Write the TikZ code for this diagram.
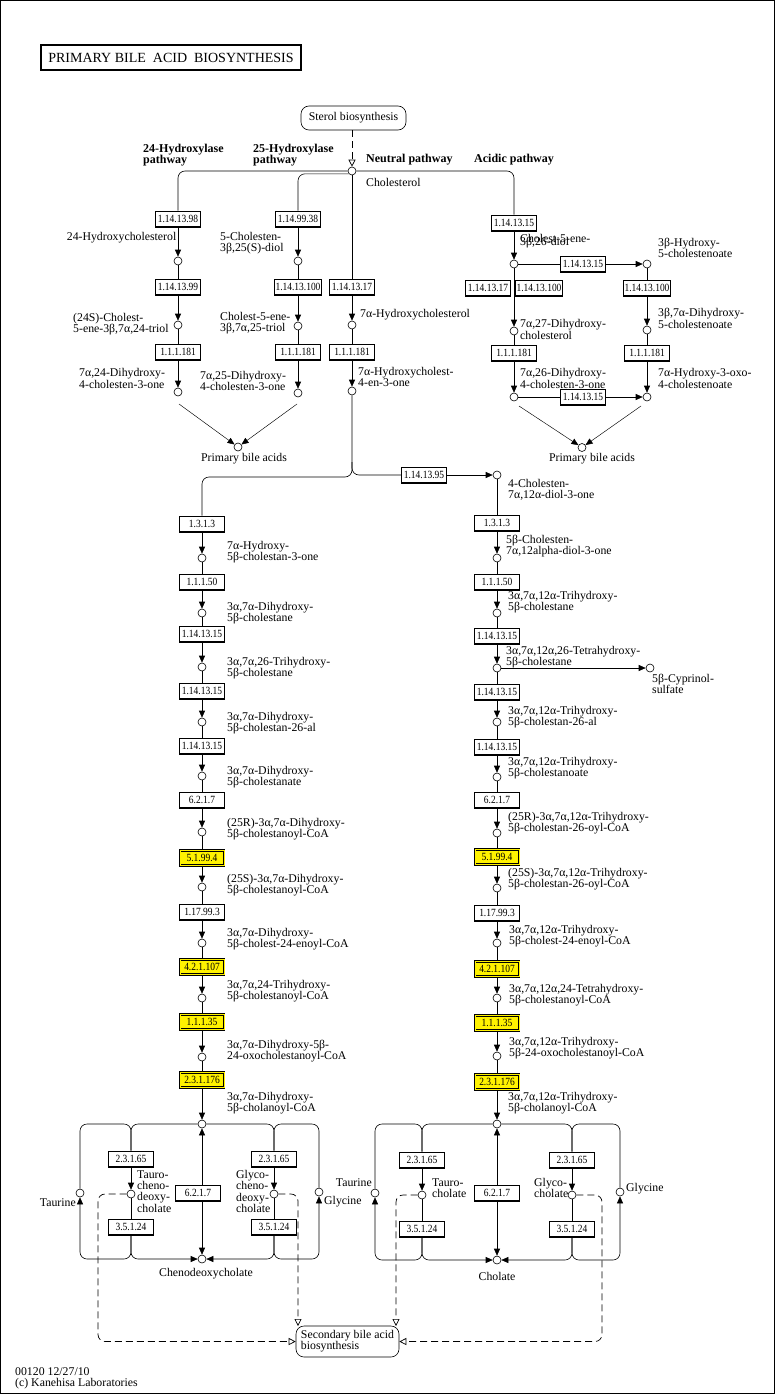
\documentclass[tikz,border=0pt]{standalone}
\usepackage{fontspec}
\setmainfont{Liberation Serif}
\newfontfamily\enzfont[FakeStretch=0.86]{Liberation Serif}
\usetikzlibrary{arrows.meta,calc}
\begin{document}
\begin{tikzpicture}[x=1pt,y=-1pt,
  lbl/.style={inner sep=0pt, align=left, font=\fontsize{11.8}{11.3}\selectfont},
  hd/.style={inner sep=0pt, align=left, anchor=west, font=\fontsize{12}{11.5}\selectfont\bfseries},
  enz/.style={draw, fill=white, line width=0.6pt, minimum width=45pt, minimum height=16pt, inner sep=1pt,
    font=\enzfont\fontsize{11}{11}\selectfont,
    path picture={\draw[line width=2.2pt] (path picture bounding box.south west) -- (path picture bounding box.south east);}},
  enzy/.style={draw, fill=yellow, line width=0.7pt, double=yellow, double distance=0.9pt, minimum width=44pt, minimum height=15pt, inner sep=1pt,
    font=\enzfont\fontsize{11}{11}\selectfont},
  cpd/.style={circle, draw, fill=white, minimum size=8pt, inner sep=0pt, line width=0.6pt},
  rx/.style={line width=0.6pt},
  thin/.style={line width=0.45pt, -{Triangle[length=7pt,width=6pt]}},
  ar/.style={line width=0.6pt, -{Triangle[length=7pt,width=6pt]}},
  dsh/.style={line width=0.7pt, dash pattern=on 7pt off 4pt, -{Triangle[open,length=7pt,width=7pt]}},
  rc/.style={rounded corners=7pt},
  mapbox/.style={draw, rounded corners=8pt, line width=0.6pt, font=\fontsize{11.8}{11.3}\selectfont},
]
\useasboundingbox (0,0) rectangle (776,1394);
\draw[line width=1pt] (0.5,0.5) rectangle (774.5,1393);

% title
\node[draw, line width=2pt, minimum width=260pt, minimum height=25pt, inner sep=0pt,
  font=\fontsize{14}{14}\selectfont] (title) at (171,57.5) {PRIMARY BILE~ ACID~ BIOSYNTHESIS};

% top maps and headings
\node[mapbox, minimum width=105pt, minimum height=24pt] (sterol) at (353.5,118) {Sterol biosynthesis};
\node[hd] (h24) at (143,155) {24-Hydroxylase\\pathway};
\node[hd] (h25) at (253,155) {25-Hydroxylase\\pathway};
\node[hd] (hneu) at (366,160) {Neutral pathway};
\node[hd] (hacid) at (474,160) {Acidic pathway};

\node[cpd] (chol) at (352,171) {};
\node[lbl, anchor=west] (lchol) at (366,182) {Cholesterol};
\coordinate (cholsw) at (348.6,173.8);
\draw[dsh] (chol |- sterol.south) -- (chol);

% 24-hydroxylase column (x=178)
\node[enz] (b9813) at (178,219) {1.14.13.98};
\node[cpd] (c24oh) at (178,261) {};
\node[enz] (b9913) at (178,287) {1.14.13.99};
\node[cpd] (c24triol) at (178,325) {};
\node[enz] (b181a) at (178,352) {1.1.1.181};
\node[cpd] (c24one) at (178,392) {};
\node[lbl, anchor=east] at (176.5,238) {24-Hydroxycholesterol};
\node[lbl, anchor=west] at (73,324) {(24S)-Cholest-\\5-ene-3β,7α,24-triol};
\node[lbl, anchor=west] at (79,378.5) {7α,24-Dihydroxy-\\4-cholesten-3-one};

% 25-hydroxylase column (x=298)
\node[enz] (b9938) at (298,219) {1.14.99.38};
\node[cpd] (c25diol) at (298,261) {};
\node[enz] (b100a) at (298,287) {1.14.13.100};
\node[cpd] (c25triol) at (298,326) {};
\node[enz] (b181b) at (298,352) {1.1.1.181};
\node[cpd] (c25one) at (298,393) {};
\node[lbl, anchor=west] at (220,243.5) {5-Cholesten-\\3β,25(S)-diol};
\node[lbl, anchor=west] at (220,323) {Cholest-5-ene-\\3β,7α,25-triol};
\node[lbl, anchor=west] at (200,381) {7α,25-Dihydroxy-\\4-cholesten-3-one};

% neutral column (x=352)
\node[enz] (n17) at (352,287) {1.14.13.17};
\node[cpd] (c7aoh) at (352,325) {};
\node[enz] (n181) at (352,352) {1.1.1.181};
\node[cpd] (c7aone) at (352,391) {};
\node[lbl, anchor=west] at (360,315) {7α-Hydroxycholesterol};
\node[lbl, anchor=west] at (358,377) {7α-Hydroxycholest-\\4-en-3-one};

% primary bile acids left
\node[cpd] (pba1) at (238,447) {};
\node[lbl] at (244,458.5) {Primary bile acids};
\coordinate (pb1a) at (179,404);
\coordinate (pb1b) at (297,404);

% acidic pathway
\node[enz] (a15) at (514,223) {1.14.13.15};
\node[cpd] (c26diol) at (514,264) {};
\node[enz] (a15h) at (583,264) {1.14.13.15};
\node[cpd] (c3bhc) at (647,264) {};
\node[enz] (a17) at (488,288) {1.14.13.17};
\node[enz] (a100l) at (539,288) {1.14.13.100};
\node[enz] (a100r) at (647,288) {1.14.13.100};
\node[cpd] (c727) at (514,331) {};
\node[cpd] (c3b7a) at (647,330) {};
\node[enz] (a181l) at (514,353) {1.1.1.181};
\node[enz] (a181r) at (647,353) {1.1.1.181};
\node[cpd] (c726one) at (514,397) {};
\node[enz] (a15b) at (583,397) {1.14.13.15};
\node[cpd] (c7a3oxo) at (647,397) {};
\node[cpd] (pba2) at (582,447.5) {};
\node[lbl] at (592,459) {Primary bile acids};
\coordinate (pb2a) at (519,406);
\coordinate (pb2b) at (641,406);
\node[lbl, anchor=west] at (520,238) {Cholest-5-ene-};
\node[lbl, anchor=west] at (520,242.5) {3β,26-diol};
\node[lbl, anchor=west] at (658,248) {3β-Hydroxy-\\5-cholestenoate};
\node[lbl, anchor=west] at (520,329.5) {7α,27-Dihydroxy-\\cholesterol};
\node[lbl, anchor=west] at (658,318.5) {3β,7α-Dihydroxy-\\5-cholestenoate};
\node[lbl, anchor=west] at (520,378.5) {7α,26-Dihydroxy-\\4-cholesten-3-one};
\node[lbl, anchor=west] at (658,378.5) {7α-Hydroxy-3-oxo-\\4-cholestenoate};

% split
\coordinate (split) at (352,462);
\node[enz] (b95) at (424,475) {1.14.13.95};

% left main column (x=202)
\node[enz] (l313) at (202,524) {1.3.1.3};
\node[cpd] (l1) at (202,558) {};
\node[enz] (l50) at (202,582) {1.1.1.50};
\node[cpd] (l2) at (202,613) {};
\node[enz] (l15a) at (202,634) {1.14.13.15};
\node[cpd] (l3) at (202,667) {};
\node[enz] (l15b) at (202,691) {1.14.13.15};
\node[cpd] (l4) at (202,722) {};
\node[enz] (l15c) at (202,746) {1.14.13.15};
\node[cpd] (l5) at (202,776) {};
\node[enz] (l6217) at (202,800) {6.2.1.7};
\node[cpd] (l6) at (202,832) {};
\node[enzy] (l5199) at (202,858) {5.1.99.4};
\node[cpd] (l7) at (202,887) {};
\node[enz] (l17993) at (202,912) {1.17.99.3};
\node[cpd] (l8) at (202,943) {};
\node[enzy] (l42) at (202,967) {4.2.1.107};
\node[cpd] (l9) at (202,998) {};
\node[enzy] (l35) at (202,1022) {1.1.1.35};
\node[cpd] (l10) at (202,1057) {};
\node[enzy] (l176) at (202,1080) {2.3.1.176};
\node[cpd] (t1) at (202,1124) {};

\node[lbl, anchor=west] at (227,552.5) {7α-Hydroxy-\\5β-cholestan-3-one};
\node[lbl, anchor=west] at (227,613) {3α,7α-Dihydroxy-\\5β-cholestane};
\node[lbl, anchor=west] at (227,668) {3α,7α,26-Trihydroxy-\\5β-cholestane};
\node[lbl, anchor=west] at (227,723) {3α,7α-Dihydroxy-\\5β-cholestan-26-al};
\node[lbl, anchor=west] at (227,777) {3α,7α-Dihydroxy-\\5β-cholestanate};
\node[lbl, anchor=west] at (227,829) {(25R)-3α,7α-Dihydroxy-\\5β-cholestanoyl-CoA};
\node[lbl, anchor=west] at (227,885) {(25S)-3α,7α-Dihydroxy-\\5β-cholestanoyl-CoA};
\node[lbl, anchor=west] at (227,939) {3α,7α-Dihydroxy-\\5β-cholest-24-enoyl-CoA};
\node[lbl, anchor=west] at (227,991) {3α,7α,24-Trihydroxy-\\5β-cholestanoyl-CoA};
\node[lbl, anchor=west] at (227,1051) {3α,7α-Dihydroxy-5β-\\24-oxocholestanoyl-CoA};
\node[lbl, anchor=west] at (227,1103) {3α,7α-Dihydroxy-\\5β-cholanoyl-CoA};

% right main column (x=497)
\node[cpd] (rc1) at (497,475) {};
\node[enz] (r313) at (497,523) {1.3.1.3};
\node[cpd] (r2) at (497,558) {};
\node[enz] (r50) at (497,582) {1.1.1.50};
\node[cpd] (r3) at (497,613) {};
\node[enz] (r15a) at (497,636) {1.14.13.15};
\node[cpd] (r4) at (497,668) {};
\node[cpd] (cypr) at (650,668) {};
\node[enz] (r15b) at (497,692) {1.14.13.15};
\node[cpd] (r5) at (497,722) {};
\node[enz] (r15c) at (497,747) {1.14.13.15};
\node[cpd] (r6) at (497,777) {};
\node[enz] (r6217) at (497,800) {6.2.1.7};
\node[cpd] (r7) at (497,833) {};
\node[enzy] (r5199) at (497,857) {5.1.99.4};
\node[cpd] (r8) at (497,888) {};
\node[enz] (r17993) at (497,913) {1.17.99.3};
\node[cpd] (r9) at (497,943) {};
\node[enzy] (r42) at (497,969) {4.2.1.107};
\node[cpd] (r10) at (497,998) {};
\node[enzy] (r35) at (497,1023) {1.1.1.35};
\node[cpd] (r11) at (497,1056) {};
\node[enzy] (r176) at (497,1082) {2.3.1.176};
\node[cpd] (t2) at (497,1124) {};

\node[lbl, anchor=west] at (508,490) {4-Cholesten-\\7α,12α-diol-3-one};
\node[lbl, anchor=west] at (506,546) {5β-Cholesten-\\7α,12alpha-diol-3-one};
\node[lbl, anchor=west] at (508,602) {3α,7α,12α-Trihydroxy-\\5β-cholestane};
\node[lbl, anchor=west] at (506,657) {3α,7α,12α,26-Tetrahydroxy-\\5β-cholestane};
\node[lbl, anchor=west] at (652,684) {5β-Cyprinol-\\sulfate};
\node[lbl, anchor=west] at (508,717) {3α,7α,12α-Trihydroxy-\\5β-cholestan-26-al};
\node[lbl, anchor=west] at (508,768) {3α,7α,12α-Trihydroxy-\\5β-cholestanoate};
\node[lbl, anchor=west] at (508,823) {(25R)-3α,7α,12α-Trihydroxy-\\5β-cholestan-26-oyl-CoA};
\node[lbl, anchor=west] at (508,879.5) {(25S)-3α,7α,12α-Trihydroxy-\\5β-cholestan-26-oyl-CoA};
\node[lbl, anchor=west] at (509,936) {3α,7α,12α-Trihydroxy-\\5β-cholest-24-enoyl-CoA};
\node[lbl, anchor=west] at (509,995) {3α,7α,12α,24-Tetrahydroxy-\\5β-cholestanoyl-CoA};
\node[lbl, anchor=west] at (509,1048) {3α,7α,12α-Trihydroxy-\\5β-24-oxocholestanoyl-CoA};
\node[lbl, anchor=west] at (508,1103) {3α,7α,12α-Trihydroxy-\\5β-cholanoyl-CoA};

% bottom left conjugation block
\node[enz] (lL65) at (131,1159) {2.3.1.65};
\node[cpd] (tcdca) at (131,1194) {};
\node[enz] (lL24) at (131,1227) {3.5.1.24};
\node[enz] (l6217b) at (198,1193) {6.2.1.7};
\node[enz] (lR65) at (274,1159) {2.3.1.65};
\node[cpd] (gcdca) at (274,1194) {};
\node[enz] (lR24) at (274,1227) {3.5.1.24};
\node[cpd] (taur1) at (80,1193) {};
\node[cpd] (gly1) at (319,1192) {};
\node[cpd] (cdca) at (202,1259) {};
\node[lbl, anchor=west] at (137,1191.5) {Tauro-\\cheno-\\deoxy-\\cholate};
\node[lbl, anchor=west] at (236,1191.5) {Glyco-\\cheno-\\deoxy-\\cholate};
\node[lbl, anchor=east] at (76,1203) {Taurine};
\node[lbl, anchor=west] at (324,1202) {Glycine};
\node[lbl] at (206,1274) {Chenodeoxycholate};

% bottom right conjugation block
\node[enz] (rL65) at (422,1160) {2.3.1.65};
\node[cpd] (tc) at (422,1195) {};
\node[enz] (rL24) at (422,1229) {3.5.1.24};
\node[enz] (r6217b) at (497,1193) {6.2.1.7};
\node[enz] (rR65) at (572,1160) {2.3.1.65};
\node[cpd] (gc) at (572,1195) {};
\node[enz] (rR24) at (572,1229) {3.5.1.24};
\node[cpd] (taur2) at (375,1193) {};
\node[cpd] (gly2) at (620,1192) {};
\node[cpd] (cha) at (497,1260) {};
\node[lbl, anchor=west] at (432,1188) {Tauro-\\cholate};
\node[lbl, anchor=west] at (534,1188) {Glyco-\\cholate};
\node[lbl, anchor=east] at (372,1183) {Taurine};
\node[lbl, anchor=west] at (626,1189) {Glycine};
\node[lbl] at (497,1276) {Cholate};

% secondary bile acid
\node[mapbox, minimum width=103pt, minimum height=31pt, align=left, inner sep=2pt] (sec) at (347.5,1341.5) {Secondary bile acid\\biosynthesis};
\coordinate (secTL) at (298,1326);
\coordinate (secTR) at (396,1326);

% footer
\node[lbl, anchor=west] at (15,1372) {00120 12/27/10};
\node[lbl, anchor=west] at (15,1384) {(c) Kanehisa Laboratories};

% ---------------- connectors ----------------
% from cholesterol
\draw[rx,rc] (chol) -- (178,171) -- (b9813);
\draw[rx,rc] (cholsw) -- (298,173.8) -- (b9938);
\draw[rx,rc] (chol) -- (514,171) -- (a15);
\draw[rx] (chol) -- (n17);

% 24-hydroxylase
\draw[ar] (b9813) -- (c24oh);
\draw[rx] (c24oh) -- (b9913);
\draw[ar] (b9913) -- (c24triol);
\draw[rx] (c24triol) -- (b181a);
\draw[ar] (b181a) -- (c24one);
% 25-hydroxylase
\draw[ar] (b9938) -- (c25diol);
\draw[rx] (c25diol) -- (b100a);
\draw[ar] (b100a) -- (c25triol);
\draw[rx] (c25triol) -- (b181b);
\draw[ar] (b181b) -- (c25one);
\draw[thin] (pb1a) -- (pba1);
\draw[thin] (pb1b) -- (pba1);
% neutral
\draw[ar] (n17) -- (c7aoh);
\draw[rx] (c7aoh) -- (n181);
\draw[ar] (n181) -- (c7aone);
\draw[rx,rc] (c7aone) -- (split) -- (352,477) -- (202,477) -- (l313);
\draw[rx,rc] (split) -- (352,475) -- (b95);
\draw[ar] (b95) -- (rc1);

% acidic
\draw[ar] (a15) -- (c26diol);
\draw[rx] (c26diol) -- (a15h);
\draw[ar] (a15h) -- (c3bhc);
\draw[ar] (c26diol) -- (c727);
\draw[rx] (c3bhc) -- (a100r);
\draw[ar] (a100r) -- (c3b7a);
\draw[rx] (c727) -- (a181l);
\draw[ar] (a181l) -- (c726one);
\draw[rx] (c3b7a) -- (a181r);
\draw[ar] (a181r) -- (c7a3oxo);
\draw[rx] (c726one) -- (a15b);
\draw[ar] (a15b) -- (c7a3oxo);
\draw[thin] (pb2a) -- (pba2);
\draw[thin] (pb2b) -- (pba2);

% left main
\draw[ar] (l313) -- (l1);
\draw[rx] (l1) -- (l50);
\draw[ar] (l50) -- (l2);
\draw[rx] (l2) -- (l15a);
\draw[ar] (l15a) -- (l3);
\draw[rx] (l3) -- (l15b);
\draw[ar] (l15b) -- (l4);
\draw[rx] (l4) -- (l15c);
\draw[ar] (l15c) -- (l5);
\draw[rx] (l5) -- (l6217);
\draw[ar] (l6217) -- (l6);
\draw[rx] (l6) -- (l5199);
\draw[ar] (l5199) -- (l7);
\draw[rx] (l7) -- (l17993);
\draw[ar] (l17993) -- (l8);
\draw[rx] (l8) -- (l42);
\draw[ar] (l42) -- (l9);
\draw[rx] (l9) -- (l35);
\draw[ar] (l35) -- (l10);
\draw[rx] (l10) -- (l176);
\draw[ar] (l176) -- (t1);

% right main
\draw[rx] (rc1) -- (r313);
\draw[ar] (r313) -- (r2);
\draw[rx] (r2) -- (r50);
\draw[ar] (r50) -- (r3);
\draw[rx] (r3) -- (r15a);
\draw[ar] (r15a) -- (r4);
\draw[ar] (r4) -- (cypr);
\draw[rx] (r4) -- (r15b);
\draw[ar] (r15b) -- (r5);
\draw[rx] (r5) -- (r15c);
\draw[ar] (r15c) -- (r6);
\draw[rx] (r6) -- (r6217);
\draw[ar] (r6217) -- (r7);
\draw[rx] (r7) -- (r5199);
\draw[ar] (r5199) -- (r8);
\draw[rx] (r8) -- (r17993);
\draw[ar] (r17993) -- (r9);
\draw[rx] (r9) -- (r42);
\draw[ar] (r42) -- (r10);
\draw[rx] (r10) -- (r35);
\draw[ar] (r35) -- (r11);
\draw[rx] (r11) -- (r176);
\draw[ar] (r176) -- (t2);

% bottom left block
\draw[ar] (t1 |- l6217b.north) -- (t1);
\draw[ar] (t1 |- l6217b.south) -- (cdca);
\draw[rx,rc] (t1) -- (131,1124) -- (lL65);
\draw[rx,rc] (taur1) -- (80,1124) -- (131,1124) -- (lL65);
\draw[ar] (lL65) -- (tcdca);
\draw[rx] (tcdca) -- (lL24);
\draw[ar,rc] (lL24) -- (131,1259) -- (80,1259) -- (taur1);
\draw[ar,rc] (lL24) -- (131,1259) -- (cdca);
\draw[rx,rc] (t1) -- (274,1124) -- (lR65);
\draw[rx,rc] (gly1) -- (319,1124) -- (274,1124) -- (lR65);
\draw[ar] (lR65) -- (gcdca);
\draw[rx] (gcdca) -- (lR24);
\draw[ar,rc] (lR24) -- (274,1259) -- (319,1259) -- (gly1);
\draw[ar,rc] (lR24) -- (274,1259) -- (cdca);
\draw[dsh,rc] (tcdca) -- (98,1194) -- (98,1341.5) -- (sec);
\draw[dsh,rc] (gcdca) -- (298,1194) -- (secTL);

% bottom right block
\draw[ar] (r6217b) -- (t2);
\draw[ar] (r6217b) -- (cha);
\draw[rx,rc] (t2) -- (422,1124) -- (rL65);
\draw[rx,rc] (taur2) -- (375,1124) -- (422,1124) -- (rL65);
\draw[ar] (rL65) -- (tc);
\draw[rx] (tc) -- (rL24);
\draw[ar,rc] (rL24) -- (422,1260) -- (375,1260) -- (taur2);
\draw[ar,rc] (rL24) -- (422,1260) -- (cha);
\draw[rx,rc] (t2) -- (572,1124) -- (rR65);
\draw[rx,rc] (gly2) -- (620,1124) -- (572,1124) -- (rR65);
\draw[ar] (rR65) -- (gc);
\draw[rx] (gc) -- (rR24);
\draw[ar,rc] (rR24) -- (572,1260) -- (620,1260) -- (gly2);
\draw[ar,rc] (rR24) -- (572,1260) -- (cha);
\draw[dsh,rc] (tc) -- (396,1195) -- (secTR);
\draw[dsh,rc] (gc) -- (602,1195) -- (602,1341.5) -- (sec);
\end{tikzpicture}
\end{document}
